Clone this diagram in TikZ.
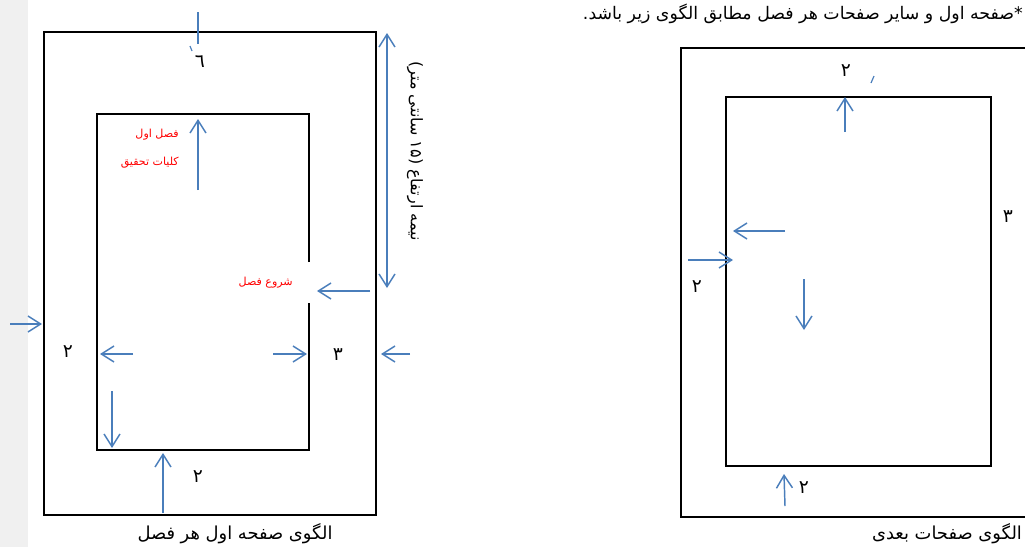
\documentclass[tikz,border=0pt]{standalone}
\usepackage{fontspec}
\TeXXeTstate=1
\newfontfamily\arabicfont[Script=Arabic]{DejaVu Sans}
\usetikzlibrary{arrows.meta}
\definecolor{arrowblue}{RGB}{74,126,187}
\definecolor{stripgray}{RGB}{240,240,240}
\definecolor{redtext}{RGB}{255,0,0}
\begin{document}
\begin{tikzpicture}[x=0.75pt,y=-0.75pt,
  arr/.style={draw=arrowblue,line width=1.1pt,-{Straight Barb[length=9.5pt,width=12pt]}},
  dblarr/.style={draw=arrowblue,line width=1.1pt,{Straight Barb[length=9.5pt,width=12pt]}-{Straight Barb[length=9.5pt,width=12pt]}},
  bluetick/.style={draw=arrowblue,line width=0.9pt},
  thickframe/.style={draw=black,line width=1.6pt},
  thinframe/.style={draw=black,line width=1pt},
  lbl/.style={inner sep=0pt,font=\arabicfont\fontsize{14}{16}\selectfont},
  redlbl/.style={inner sep=0pt,text=redtext,font=\arabicfont\fontsize{8.3}{10}\selectfont},
  caplbl/.style={inner sep=0pt,font=\arabicfont\fontsize{13.4}{15}\selectfont}]
\useasboundingbox (0,0) rectangle (1025,547);
\fill[stripgray] (0,0) rectangle (28,547);

% ---------- left pattern ----------
\node[thickframe,minimum width=332*0.75pt,minimum height=483*0.75pt,anchor=north west,inner sep=0pt] (outerL) at (43,31) {};
\draw[thickframe] (309,262) -- (309,114) -- (97,114) -- (97,450) -- (309,450) -- (309,303);
\coordinate (innerL) at (203,282);

\coordinate (t1) at (198,12); \coordinate (t2) at (198,44);
\draw[bluetick] (t1) -- (t2);
\coordinate (k1) at (190,46); \coordinate (k2) at (192,51);
\draw[bluetick] (k1) -- (k2);
\node[lbl] (sixL) at (200,62) {\beginR ٦\endR};

\coordinate (ua1) at (198,190); \coordinate (ua2) at (198,119);
\draw[arr] (ua1) -- (ua2);
\node[redlbl,anchor=east] (fasl) at (179,135) {\beginR فصل اول\endR};
\node[redlbl,anchor=east] (koll) at (179,163) {\beginR کلیات تحقیق\endR};

\coordinate (d1) at (387,33); \coordinate (d2) at (387,288);
\draw[dblarr] (d1) -- (d2);
\node[inner sep=0pt,rotate=-90,font=\arabicfont\fontsize{12}{14}\selectfont] (half) at (415,151) {\beginR نیمه ارتفاع (۱۵ سانتی متر)\endR};

\coordinate (s1) at (370,291); \coordinate (s2) at (317,291);
\draw[arr] (s1) -- (s2);
\node[redlbl,anchor=east] (shoru) at (293,283) {\beginR شروع فصل\endR};

\coordinate (l1) at (10,324); \coordinate (l2) at (42,324);
\draw[arr] (l1) -- (l2);
\node[lbl] (twoL1) at (68,352) {\beginR ۲\endR};
\coordinate (il1) at (133,354); \coordinate (il2) at (100,354);
\draw[arr] (il1) -- (il2);
\coordinate (ir1) at (273,354); \coordinate (ir2) at (307,354);
\draw[arr] (ir1) -- (ir2);
\node[lbl] (threeL) at (338,355) {\beginR ۳\endR};
\coordinate (or1) at (410,354); \coordinate (or2) at (381,354);
\draw[arr] (or1) -- (or2);

\coordinate (dd1) at (112,391); \coordinate (dd2) at (112,448);
\draw[arr] (dd1) -- (dd2);
\coordinate (bu1) at (163,513); \coordinate (bu2) at (163,453);
\draw[arr] (bu1) -- (bu2);
\node[lbl] (twoL2) at (198,477) {\beginR ۲\endR};

\node[caplbl] (capL) at (235,534) {\beginR الگوی صفحه اول هر فصل\endR};

% ---------- right pattern ----------
\node[font=\arabicfont\fontsize{13}{15}\selectfont,inner sep=0pt,anchor=east] (head) at (1023,14) {\beginR *صفحه اول و سایر صفحات هر فصل مطابق الگوی زیر باشد.\endR};

\draw[thinframe] (1026,48) -- (681,48) -- (681,517) -- (1026,517);
\coordinate (outerR) at (853,282);
\node[thickframe,minimum width=265*0.75pt,minimum height=369*0.75pt,anchor=north west,inner sep=0pt] (innerR) at (725,96) {};

\node[lbl] (twoR1) at (846,71) {\beginR ۲\endR};
\coordinate (rk1) at (874,76); \coordinate (rk2) at (871,83);
\draw[bluetick] (rk1) -- (rk2);
\coordinate (ru1) at (845,132); \coordinate (ru2) at (845,97);
\draw[arr] (ru1) -- (ru2);
\node[lbl] (threeR) at (1008,217) {\beginR ۳\endR};
\coordinate (rl1) at (785,231); \coordinate (rl2) at (733,231);
\draw[arr] (rl1) -- (rl2);
\coordinate (rr1) at (688,260); \coordinate (rr2) at (733,260);
\draw[arr] (rr1) -- (rr2);
\node[lbl] (twoR2) at (697,287) {\beginR ۲\endR};
\coordinate (rd1) at (804,279); \coordinate (rd2) at (804,330);
\draw[arr] (rd1) -- (rd2);
\coordinate (rb1) at (785,506); \coordinate (rb2) at (784,474);
\draw[arr] (rb1) -- (rb2);
\node[lbl] (twoR3) at (804,488) {\beginR ۲\endR};

\node[caplbl] (capR) at (947,534) {\beginR الگوی صفحات بعدی\endR};
\end{tikzpicture}
\end{document}
